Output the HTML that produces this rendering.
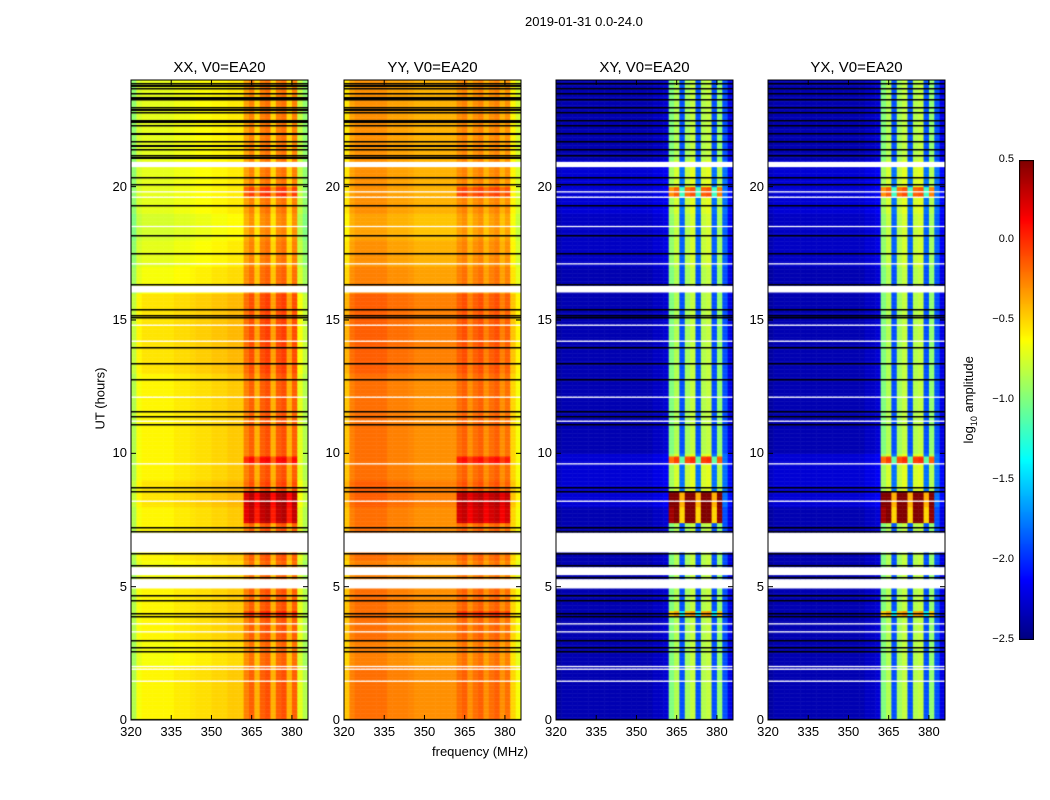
<!DOCTYPE html>
<html><head><meta charset="utf-8"><style>
body{margin:0;width:1050px;height:800px;background:#fff;font-family:"Liberation Sans",sans-serif;overflow:hidden;position:relative}
.t{position:absolute;font-size:13px;color:#000;white-space:nowrap}
canvas{position:absolute}
</style></head><body>
<div class="t" style="left:525px;top:14px">2019-01-31 0.0-24.0</div>
<div id="root"></div>
<script>
// ---- data ----
const freqs=[320,322,324,326,328,330,332,334,336,338,340,342,344,346,348,350,352,354,356,358,360,362,364,366,368,370,372,374,376,378,380,382,384];
const baseXX=[-0.9,-0.7,-0.65,-0.65,-0.65,-0.65,-0.65,-0.65,-0.62,-0.62,-0.62,-0.6,-0.58,-0.58,-0.58,-0.55,-0.55,-0.55,-0.52,-0.52,-0.52,-0.3,-0.2,-0.45,-0.2,-0.15,-0.45,-0.2,-0.15,-0.45,-0.2,-0.75,-0.9];
const baseYY=[-0.5,-0.3,-0.25,-0.25,-0.25,-0.25,-0.25,-0.25,-0.3,-0.3,-0.3,-0.3,-0.32,-0.35,-0.35,-0.35,-0.35,-0.35,-0.35,-0.35,-0.35,-0.25,-0.2,-0.35,-0.25,-0.2,-0.35,-0.25,-0.2,-0.35,-0.25,-0.55,-0.7];
const baseXY=[-2.4,-2.35,-2.35,-2.35,-2.35,-2.35,-2.35,-2.35,-2.35,-2.35,-2.35,-2.35,-2.35,-2.35,-2.35,-2.35,-2.35,-2.35,-2.3,-2.3,-2.25,-1.0,-0.85,-1.9,-0.9,-0.8,-1.9,-0.85,-0.8,-1.9,-0.95,-1.9,-2.2];
const baseYX=[-2.4,-2.35,-2.35,-2.35,-2.35,-2.35,-2.35,-2.35,-2.35,-2.35,-2.35,-2.35,-2.35,-2.35,-2.35,-2.35,-2.35,-2.35,-2.3,-2.3,-2.25,-1.0,-0.85,-1.9,-0.9,-0.8,-1.9,-0.85,-0.8,-1.9,-0.95,-1.9,-2.2];
const hourModPar=[0.05,0.05,0,0.05,0.05,0,0.05,0.05,0.1,0.05,0.05,0.05,0.05,0.1,0.1,0.1,0,-0.05,-0.1,-0.05,-0.05,-0.05,-0.05,-0.05];
const hourModCross=[0,0,0,0,0,0,0,0,0.1,0.1,0,0,0,0,0,0,0,0.05,0.05,0.1,0.1,0,0,0];
const rfiBoostHours=[[7.4,8.6,0.45,1.4],[9.6,9.9,0.25,0.7],[19.6,20.0,0.2,0.6],[3.9,4.1,0.15,0.5]];
const whiteRanges=[[4.95,5.3],[5.45,5.75],[6.3,7.05],[16.05,16.3],[20.75,20.95],[1.45,1.52],[1.9,1.97],[3.3,3.37],[3.6,3.67],[9.6,9.66],[11.2,11.27],[12.1,12.17],[14.2,14.27],[17.1,17.17],[18.5,18.57],[19.6,19.67],[19.8,19.87],[8.2,8.26],[2.0,2.05],[14.8,14.86]];
const blackLines=[0.05,2.6,2.75,3.0,3.9,4.0,4.5,4.7,5.35,5.8,6.25,7.1,7.25,8.6,8.75,11.1,11.4,11.6,12.8,13.4,14.0,15.1,15.2,15.4,16.35,17.5,18.2,19.3,20.1,20.35,21.2,21.4,21.7,22.0,22.3,22.5,22.8,23.0,23.3,23.5,23.7,23.9];
const titles=["XX, V0=EA20","YY, V0=EA20","XY, V0=EA20","YX, V0=EA20"];
const xTicks=[320,335,350,365,380];
const yTicks=[0,5,10,15,20];
const cbTicks=[0.5,0.0,-0.5,-1.0,-1.5,-2.0,-2.5];
// ---- layout ----
const panelsX=[131,344,556,768],PW=177,PT=80,PH=640,FMIN=320,FMAX=386,HMAX=24,VMIN=-2.5,VMAX=0.5;
const xs=f=>(f-FMIN)/(FMAX-FMIN)*PW, ys=h=>PH-h/HMAX*PH;
function jet(v){let t=(v-VMIN)/(VMAX-VMIN);t=Math.max(0,Math.min(1,t));
 const c=x=>Math.max(0,Math.min(1,x));
 return [c(1.5-Math.abs(4*t-3)),c(1.5-Math.abs(4*t-2)),c(1.5-Math.abs(4*t-1))].map(x=>Math.round(x*255));}
const root=document.getElementById('root');
const bases=[baseXX,baseYY,baseXY,baseYX];
function fmt(v){return v<0?'\u2212'+Math.abs(v).toFixed(1):v.toFixed(1);}
panelsX.forEach((px,pi)=>{
 const cv=document.createElement('canvas');cv.width=PW;cv.height=PH;
 cv.style.left=px+'px';cv.style.top=PT+'px';
 
 
 root.appendChild(cv);const g=cv.getContext('2d');
 const base=bases[pi],cross=pi>=2,hm=cross?hourModCross:hourModPar;
 const step=0.05;
 for(let h=0;h<HMAX;h+=step){
  const hh=h+step/2;
  let white=whiteRanges.some(r=>hh>=r[0]&&hh<r[1]);
  const y0=ys(h+step),y1=ys(h);
  if(white){g.fillStyle='#fff';g.fillRect(0,y0,PW,y1-y0+0.5);continue;}
  for(let c=0;c<freqs.length;c++){
   let v=base[c]+hm[Math.floor(hh)];
   if(freqs[c]>=362&&freqs[c]<382){rfiBoostHours.forEach(b=>{if(hh>=b[0]&&hh<b[1])v+=cross?b[3]:b[2];});}
   const [r,gg,b]=jet(v);g.fillStyle=`rgb(${r},${gg},${b})`;
   const x0=xs(freqs[c]),x1=xs(freqs[c]+2);g.fillRect(x0,y0,x1-x0+0.5,y1-y0+0.5);
  }
 }
 g.fillStyle='#000';
 blackLines.forEach(h=>{g.fillRect(0,Math.round(ys(h)),PW,1.5);});
 if(pi<2){for(let h=21.1;h<24;h+=0.45){g.fillRect(0,Math.round(ys(h)),PW,2);}}
 const sv=document.createElementNS('http://www.w3.org/2000/svg','svg');
 sv.setAttribute('width',PW+2);sv.setAttribute('height',PH+2);
 sv.style.cssText=`position:absolute;left:${px-1}px;top:${PT-1}px`;
 
 let s=`<rect x="1" y="1" width="${PW}" height="${PH}" fill="none" stroke="#000"/>`;
 xTicks.forEach(f=>{const x=xs(f)+1;s+=`<line x1="${x}" y1="1" x2="${x}" y2="6" stroke="#000"/><line x1="${x}" y1="${PH+1}" x2="${x}" y2="${PH-4}" stroke="#000"/>`;});
 yTicks.forEach(h=>{const y=ys(h)+1;s+=`<line x1="1" y1="${y}" x2="6" y2="${y}" stroke="#000"/><line x1="${PW+1}" y1="${y}" x2="${PW-4}" y2="${y}" stroke="#000"/>`;});
 sv.innerHTML=s;root.appendChild(sv);
 const tt=document.createElement('div');tt.className='t';tt.style.cssText=`left:${px}px;width:${PW}px;text-align:center;top:59px;font-size:15px`;
 tt.textContent=titles[pi];root.appendChild(tt);
 xTicks.forEach(f=>{const d=document.createElement('div');d.className='t';d.style.cssText=`left:${px+xs(f)-20}px;width:40px;text-align:center;top:724px`;d.textContent=f;
  root.appendChild(d);});
 yTicks.forEach(h=>{const d=document.createElement('div');d.className='t';d.style.cssText=`left:${px-44}px;width:40px;text-align:right;top:${PT+ys(h)-8}px`;d.textContent=h;
  root.appendChild(d);});
});
// colorbar
const cb=document.createElement('canvas');cb.width=15;cb.height=480;cb.style.left='1019px';cb.style.top='160px';
root.appendChild(cb);
const cg=cb.getContext('2d');
for(let i=0;i<480;i++){const v=VMAX-(i+0.5)/480*(VMAX-VMIN);const [r,g,b]=jet(v);cg.fillStyle=`rgb(${r},${g},${b})`;cg.fillRect(0,i,15,1);}
cg.strokeStyle='#000';cg.strokeRect(0.5,0.5,14,479);
cbTicks.forEach(v=>{const y=160+(VMAX-v)/(VMAX-VMIN)*480;const d=document.createElement('div');d.className='t';d.style.cssText=`left:974px;width:40px;text-align:right;top:${y-7}px;font-size:11px`;d.textContent=fmt(v);
 root.appendChild(d);});
</script>
<div class="t" style="left:55px;top:391px;width:90px;text-align:center;transform:rotate(-90deg)">UT (hours)</div>
<div class="t" style="left:432px;top:744px">frequency (MHz)</div>
<div class="t" style="left:920px;top:391px;width:100px;text-align:center;transform:rotate(-90deg)">log<sub style="font-size:9px">10</sub> amplitude</div>
</body></html>
